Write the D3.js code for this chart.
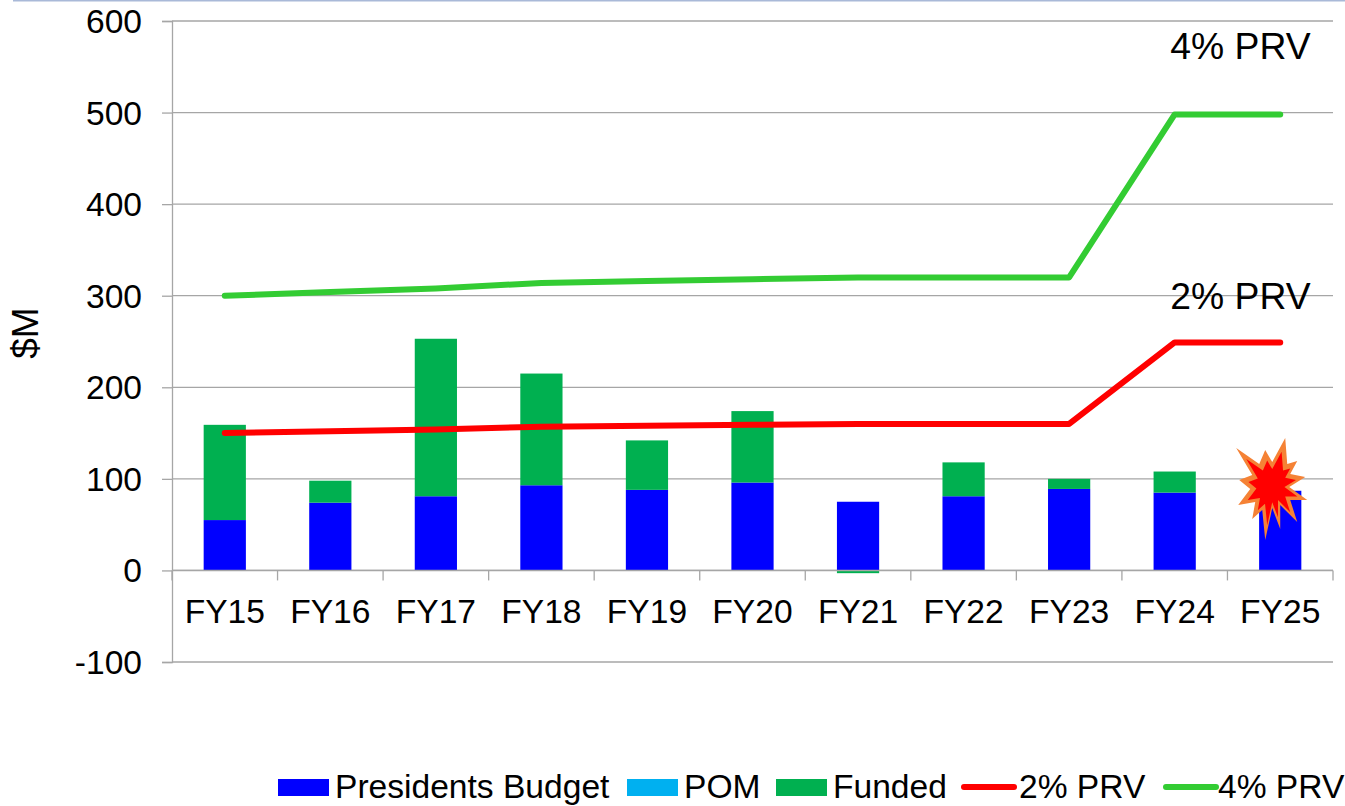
<!DOCTYPE html>
<html>
<head>
<meta charset="utf-8">
<script src="https://cdn.jsdelivr.net/npm/d3@7"></script>
<style>
  html, body { margin: 0; padding: 0; background: #fff; overflow: hidden; }
  text { font-family: "Liberation Sans", Arial, sans-serif; fill: #000; }
</style>
</head>
<body>
<script>
const years = ['FY15', 'FY16', 'FY17', 'FY18', 'FY19', 'FY20', 'FY21', 'FY22', 'FY23', 'FY24', 'FY25'];
const presidentsBudget = [55, 74, 81, 93, 88, 96, 75, 81, 89, 85, 87];
const pom = [0, 0, 0, 0, 0, 0, 0, 0, 0, 0, 0];
const funded = [104, 24, 172, 122, 54, 78, -3, 37, 11, 23, 0];
const prv2 = [150, 152, 154, 157, 158, 159, 160, 160, 160, 249, 249];
const prv4 = [300, 304, 308, 314, 316, 318, 320, 320, 320, 498, 498];
const yTicks = [-100, 0, 100, 200, 300, 400, 500, 600];

const width = 1345, height = 806;
const gray = '#a6a6a6';
const labelSize = 33.6;

const xScale = d3.scaleBand().domain(years).range([172, 1333]).paddingInner(0.6).paddingOuter(0.3);
const yScale = d3.scaleLinear().domain([-100, 600]).range([662, 21]);

const svg = d3.select('body').append('svg')
  .attr('width', width)
  .attr('height', height)
  .style('display', 'block');

// strip along the top edge of the slide
svg.append('rect').attr('x', 13).attr('y', 0).attr('width', width - 13).attr('height', 1.5).attr('fill', '#a9b9d8');

// gridlines + y axis
const yAxis = d3.axisLeft(yScale).tickValues(yTicks).tickSize(10).tickPadding(20).tickFormat(d3.format('d'));
const yG = svg.append('g').attr('transform', 'translate(172,0)').call(yAxis);
yG.select('.domain').attr('stroke', gray).attr('stroke-width', 1.3);
yG.selectAll('.tick line').attr('stroke', gray).attr('stroke-width', 1.3);
yG.selectAll('text')
  .attr('font-size', labelSize)
  .attr('font-family', null)
  .attr('dy', '0.34em')
  .text((d) => String(d)); // plain hyphen on -100

svg.append('g').selectAll('line')
  .data(yTicks)
  .enter()
  .append('line')
  .attr('x1', 172)
  .attr('x2', 1333)
  .attr('y1', (d) => yScale(d))
  .attr('y2', (d) => yScale(d))
  .attr('stroke', gray)
  .attr('stroke-width', 1.3);

// stacked bars
const rows = years.map((year, i) => ({ year, budget: presidentsBudget[i], pom: pom[i], funded: funded[i] }));

const bars = svg.append('g');
rows.forEach((row) => {
  let top = 0;
  [['budget', '#0000ff'], ['pom', '#00b0f0'], ['funded', '#00b050']].forEach(([key, colour]) => {
    const v = row[key];
    if (v === 0) return;
    // negative values hang below the zero line like the chart's stacking does
    const from = v < 0 ? 0 : top, to = v < 0 ? v : top + v;
    if (v > 0) top += v;
    bars.append('rect')
      .attr('x', xScale(row.year))
      .attr('width', xScale.bandwidth())
      .attr('y', yScale(Math.max(from, to)))
      .attr('height', Math.abs(yScale(from) - yScale(to)))
      .attr('fill', colour);
  });
});

// x axis sits on zero and is drawn over the bars, tick labels stay in the low position
const xTickPos = d3.range(years.length + 1).map((i) => 172 + i * (1333 - 172) / years.length);
svg.append('line')
  .attr('x1', 172)
  .attr('x2', 1333)
  .attr('y1', yScale(0))
  .attr('y2', yScale(0))
  .attr('stroke', gray)
  .attr('stroke-width', 1.5);

svg.append('g').selectAll('line')
  .data(xTickPos)
  .enter()
  .append('line')
  .attr('x1', (d) => d)
  .attr('x2', (d) => d)
  .attr('y1', yScale(0))
  .attr('y2', yScale(0) + 10)
  .attr('stroke', gray)
  .attr('stroke-width', 1.3);

svg.append('g').selectAll('text')
  .data(years)
  .enter()
  .append('text')
  .attr('x', (d) => xScale(d) + xScale.bandwidth() / 2)
  .attr('y', 623)
  .attr('text-anchor', 'middle')
  .attr('font-size', labelSize)
  .text((d) => d);

// lines
const line = d3.line()
  .x((d, i) => xScale(years[i]) + xScale.bandwidth() / 2)
  .y((d) => yScale(d));

[[prv2, '#ff0000'], [prv4, '#33cc33']].forEach(([values, colour]) => {
  svg.append('path')
    .attr('d', line(values))
    .attr('fill', 'none')
    .attr('stroke', colour)
    .attr('stroke-width', 6)
    .attr('stroke-linecap', 'round')
    .attr('stroke-linejoin', 'round');
});

// line labels
svg.append('text').attr('x', 1240.5).attr('y', 59).attr('text-anchor', 'middle').attr('font-size', 37.3).text('4% PRV');
svg.append('text').attr('x', 1240.5).attr('y', 309).attr('text-anchor', 'middle').attr('font-size', 37.3).text('2% PRV');

// explosion callout on FY25
const burstOuter = [[13, -49], [15, -23], [25, -26], [18, -13], [33, -10], [17, 0], [35, 13], [18, 13], [25, 35], [8, 18], [8, 42], [0, 21], [-7, 53], [-10, 23], [-20, 32], [-17, 15], [-34, 18], [-22, 2], [-33, -7], [-20, -12], [-36, -39], [-13, -23], [-7, -37], [0, -25]];
const burstInner = burstOuter.map(([a, b]) => [a * 0.72, b * 0.72]);
const burst = svg.append('g').attr('transform', 'translate(' + (xScale('FY25') + xScale.bandwidth() / 2 - 8) + ',' + yScale(91) + ')');
burst.append('path').attr('d', d3.line()(burstOuter) + 'Z').attr('fill', '#f58235');
burst.append('path').attr('d', d3.line()(burstInner) + 'Z').attr('fill', '#ff0000');

// legend
const legendItems = [
  { name: 'Presidents Budget', colour: '#0000ff', x: 278, tx: 335 },
  { name: 'POM', colour: '#00b0f0', x: 627, tx: 684 },
  { name: 'Funded', colour: '#00b050', x: 776, tx: 833 }
];
const legendLines = [
  { name: '2% PRV', colour: '#ff0000', x: 964, tx: 1019 },
  { name: '4% PRV', colour: '#33cc33', x: 1166, tx: 1218 }
];
const legend = svg.append('g');
legendItems.forEach((d) => {
  legend.append('rect').attr('x', d.x).attr('y', 779).attr('width', 51).attr('height', 17).attr('fill', d.colour);
  legend.append('text').attr('x', d.tx).attr('y', 798).attr('font-size', labelSize).text(d.name);
});
legendLines.forEach((d) => {
  legend.append('line').attr('x1', d.x).attr('x2', d.x + 50).attr('y1', 787).attr('y2', 787)
    .attr('stroke', d.colour).attr('stroke-width', 6).attr('stroke-linecap', 'round');
  legend.append('text').attr('x', d.tx).attr('y', 798).attr('font-size', labelSize).text(d.name);
});

// y axis title
svg.append('text')
  .attr('transform', 'translate(38,333) rotate(-90)')
  .attr('text-anchor', 'middle')
  .attr('font-size', 37)
  .text('$M');
</script>
</body>
</html>
